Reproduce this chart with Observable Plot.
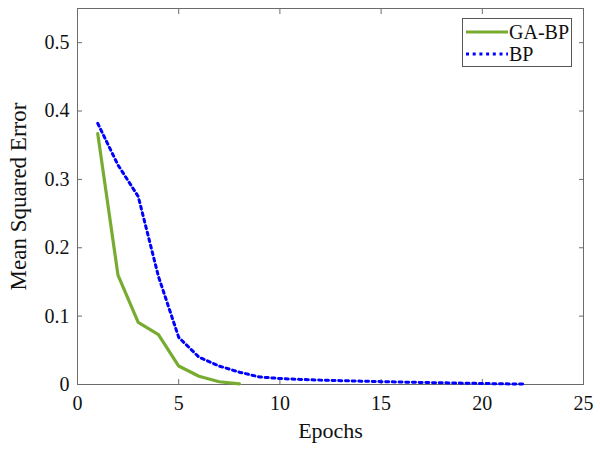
<!DOCTYPE html>
<html>
<head>
<meta charset="utf-8">
<script src="https://cdn.jsdelivr.net/npm/d3@7"></script>
<script src="https://cdn.jsdelivr.net/npm/@observablehq/plot@0.6"></script>
<style>
  html, body { margin: 0; padding: 0; background: #fff; }
  #wrap { position: relative; width: 600px; height: 450px; font-family: "Liberation Serif", "Times New Roman", serif; }
  #legend { position: absolute; left: 462px; top: 18px; width: 110px; height: 49px; border: 1px solid #555; background: #fff; box-sizing: border-box; font-size: 20px; color: #111; }
  #legend .row { position: absolute; left: 3px; height: 22px; display: flex; align-items: center; white-space: nowrap; }
  #legend .row span { margin-left: 1px; line-height: 22px; }
  #legend svg { display: block; }
</style>
</head>
<body>
<div id="wrap"></div>
<script>
const epochsGABP = [1, 2, 3, 4, 5, 6, 7, 8];
const mseGABP = [0.367, 0.160, 0.091, 0.073, 0.027, 0.012, 0.004, 0.001];
const epochsBP = [1, 2, 3, 4, 5, 6, 7, 8, 9, 10, 11, 12, 13, 14, 15, 16, 17, 18, 19, 20, 21, 22];
const mseBP = [0.382, 0.321, 0.275, 0.158, 0.069, 0.040, 0.027, 0.018, 0.011, 0.0088, 0.0074, 0.0064, 0.0056, 0.0049, 0.0042, 0.0036, 0.0030, 0.0025, 0.0020, 0.0015, 0.0010, 0.0006];
const xTicks = [0, 5, 10, 15, 20, 25];
const yTicks = [0, 0.1, 0.2, 0.3, 0.4, 0.5];
const seriesNames = ["GA-BP", "BP"];
const seriesColors = ["#77AC30", "#0000FF"];
const xLabel = "Epochs";
const yLabel = "Mean Squared Error";

const gabp = epochsGABP.map((e, i) => ({epoch: e, mse: mseGABP[i]}));
const bp = epochsBP.map((e, i) => ({epoch: e, mse: mseBP[i]}));

const axisColor = "#6b6b6b";
const dots = "3,3.7";
const chart = Plot.plot({
  width: 600,
  height: 450,
  marginLeft: 77,
  marginRight: 17,
  marginTop: 8,
  marginBottom: 66,
  style: {fontFamily: "'Liberation Serif', 'Times New Roman', serif", fontSize: "20px", color: "#111", background: "#fff"},
  x: {domain: [0, 25]},
  y: {domain: [0, 0.55]},
  marks: [
    Plot.frame({stroke: axisColor, strokeWidth: 1}),
    Plot.axisX({anchor: "bottom", ticks: xTicks, tickSize: -5, tickPadding: 16, stroke: axisColor, fontSize: 20,
      label: null, tickFormat: d => String(d)}),
    Plot.axisX({anchor: "top", ticks: xTicks, tickSize: -5, tickFormat: () => "", stroke: axisColor, label: null}),
    Plot.axisY({anchor: "left", ticks: yTicks, tickSize: -5, tickPadding: 13, stroke: axisColor, fontSize: 20,
      label: null, tickFormat: d => d === 0 ? "0" : d3.format(".1f")(d)}),
    Plot.axisY({anchor: "right", ticks: yTicks, tickSize: -5, tickFormat: () => "", stroke: axisColor, label: null}),
    Plot.text([xLabel], {text: d => d, frameAnchor: "bottom", dy: 46, fontSize: 22, textAnchor: "middle", lineAnchor: "middle", fill: "#111"}),
    Plot.text([yLabel], {text: d => d, frameAnchor: "left", dx: -59, rotate: -90, fontSize: 23, textAnchor: "middle", lineAnchor: "middle", fill: "#111"}),
    Plot.line(bp, {x: "epoch", y: "mse", stroke: seriesColors[1], strokeWidth: 3, strokeDasharray: dots}),
    Plot.line(gabp, {x: "epoch", y: "mse", stroke: seriesColors[0], strokeWidth: 3.2})
  ]
});
const wrap = document.getElementById("wrap");
wrap.appendChild(chart);

// legend overlay inside the plot box
const legend = document.createElement("div");
legend.id = "legend";
seriesNames.forEach((name, i) => {
  const row = document.createElement("div");
  row.className = "row";
  row.style.top = (2 + i * 22) + "px";
  const dash = i === 1 ? `stroke-dasharray="${dots}"` : '';
  row.innerHTML = `<svg width="42" height="10"><line x1="0" y1="5" x2="42" y2="5" stroke="${seriesColors[i]}" stroke-width="3.2" ${dash}/></svg><span>${name}</span>`;
  legend.appendChild(row);
});
wrap.appendChild(legend);
</script>
</body>
</html>
